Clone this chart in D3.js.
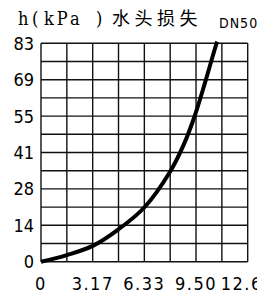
<!DOCTYPE html>
<html>
<head>
<meta charset="utf-8">
<script src="https://cdn.jsdelivr.net/npm/d3@7"></script>
<style>
  html, body { margin: 0; padding: 0; background: #fff; overflow: hidden; }
  svg { display: block; }
</style>
</head>
<body>
<div id="chart"></div>
<script>
// 数据
const flow = [0, 1.58, 3.17, 4.75, 6.33, 7.92, 8.75, 9.4, 10.1, 10.76, 10.8];
const head = [0, 2.5, 6.0, 12.3, 20.6, 34.3, 44.5, 55.0, 69.0, 83.0, 83.6];
const xTickLabels = ['0', '3.17', '6.33', '9.50', '12.67'];
const yTickLabels = ['0', '14', '28', '41', '55', '69', '83'];
const xMax = 12.67;
const yMax = 83;

const width = 257, height = 296;
const plotLeft = 41, plotRight = 247.7, plotTop = 43.3, plotBottom = 261.7;

const svg = d3.select('#chart').append('svg')
    .attr('width', width)
    .attr('height', height);

const x = d3.scaleLinear().domain([0, xMax]).range([plotLeft, plotRight]);
const y = d3.scaleLinear().domain([0, yMax]).range([plotBottom, plotTop]);

const numFont = '"Liberation Sans Narrow", "DejaVu Sans Condensed", sans-serif';

// 网格
const xGrid = d3.range(9).map(i => i * xMax / 8);
const yGrid = d3.range(13).map(i => i * yMax / 12);

svg.append('g').selectAll('line').data(xGrid).enter().append('line')
    .attr('x1', d => x(d)).attr('x2', d => x(d))
    .attr('y1', plotTop).attr('y2', plotBottom)
    .attr('stroke', '#111').attr('stroke-width', 1.4);

svg.append('g').selectAll('line').data(yGrid).enter().append('line')
    .attr('x1', plotLeft).attr('x2', plotRight)
    .attr('y1', d => y(d)).attr('y2', d => y(d))
    .attr('stroke', '#111').attr('stroke-width', 1.4);

// 曲线
const line = d3.line()
    .x((d, i) => x(flow[i]))
    .y(d => y(d))
    .curve(d3.curveCatmullRom.alpha(0.5));

svg.append('path')
    .datum(head)
    .attr('d', line)
    .attr('fill', 'none')
    .attr('stroke', '#000')
    .attr('stroke-width', 4)
    .attr('stroke-linecap', 'butt');

// 刻度标签
svg.append('g').selectAll('text').data(yTickLabels).enter().append('text')
    .attr('x', plotLeft - 7)
    .attr('y', (d, i) => y(i * yMax / 6))
    .attr('dy', '0.36em')
    .attr('text-anchor', 'end')
    .attr('font-family', numFont)
    .attr('font-size', 18)
    .text(d => d);

svg.append('g').selectAll('text').data(xTickLabels).enter().append('text')
    .attr('x', (d, i) => x(i * xMax / 4))
    .attr('y', 290)
    .attr('text-anchor', 'middle')
    .attr('font-family', numFont)
    .attr('font-size', 18)
    .attr('letter-spacing', 1.5)
    .text(d => d);

// 标题
const title = svg.append('text')
    .attr('y', 25)
    .attr('font-size', 18)
    .attr('font-family', '"DejaVu Serif Condensed", "Liberation Serif", serif');
title.append('tspan').attr('x', 18).text('h');
title.append('tspan').attr('x', 32).text('(');
title.append('tspan').attr('x', 44).attr('letter-spacing', 3).text('kPa');
title.append('tspan').attr('x', 96).text(')');
title.append('tspan').attr('x', 112)
    .attr('font-family', '"Noto Sans CJK SC", sans-serif')
    .attr('font-size', 18)
    .attr('letter-spacing', 4.5)
    .text('水头损失');

svg.append('text')
    .attr('x', 219)
    .attr('y', 28)
    .attr('font-family', numFont)
    .attr('font-size', 14)
    .attr('letter-spacing', 1)
    .text('DN50');
</script>
</body>
</html>
